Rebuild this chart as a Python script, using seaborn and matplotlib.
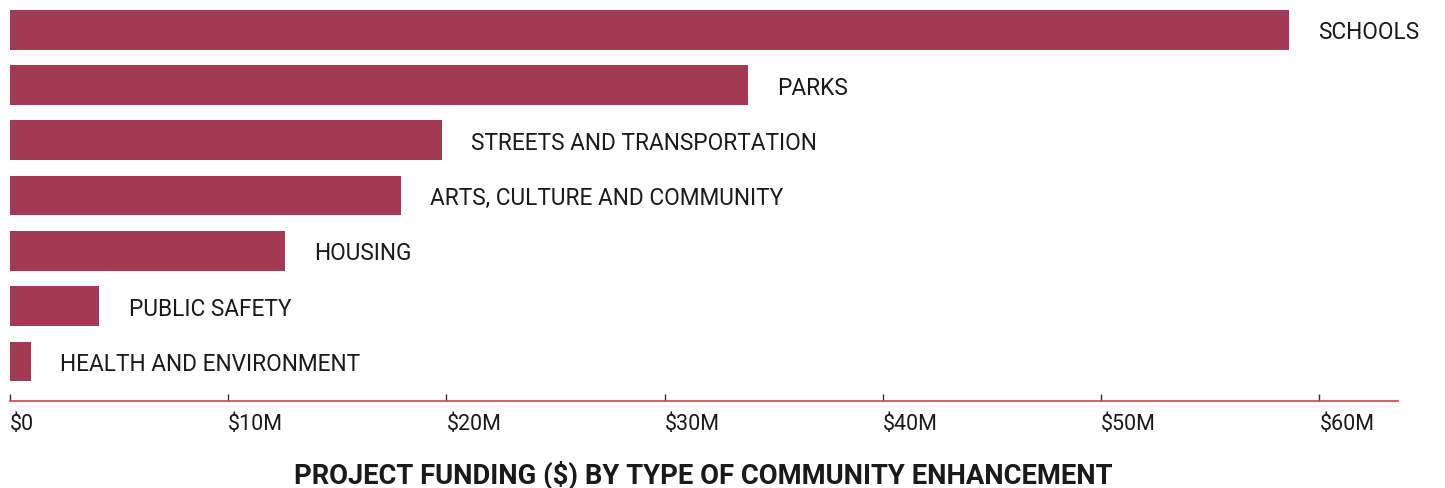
import matplotlib
matplotlib.use("Agg")
import matplotlib.pyplot as plt
import seaborn as sns
import pandas as pd

# данные (в миллионах долларов)
categories = [
    "SCHOOLS",
    "PARKS",
    "STREETS AND TRANSPORTATION",
    "ARTS, CULTURE AND COMMUNITY",
    "HOUSING",
    "PUBLIC SAFETY",
    "HEALTH AND ENVIRONMENT",
]
funding_m = [58.6, 33.8, 19.8, 17.9, 12.6, 4.1, 0.95]
tick_values = [0, 10, 20, 30, 40, 50, 60]
tick_labels = ["$0", "$10M", "$20M", "$30M", "$40M", "$50M", "$60M"]

df = pd.DataFrame({"category": categories, "funding": funding_m})

sns.set_style("white")
plt.rcParams["font.family"] = ["Roboto", "DejaVu Sans"]

bar_color = "#A13A52"
text_color = "#1a1a1a"
axis_red = "#C9444A"

fig = plt.figure(figsize=(14.45, 4.89), dpi=100)
ax = fig.add_axes([0.0069, 0.178, 0.9606, 0.800])

sns.barplot(data=df, y="category", x="funding", orient="h",
            color=bar_color, width=0.72, saturation=1, linewidth=0, ax=ax)

ax.set_xlim(0, 63.6)
ax.set_ylim(6.714, -0.36)

# подписи справа от столбцов
for i, (name, val) in enumerate(zip(categories, funding_m)):
    ax.annotate(name, xy=(val, i), xytext=(21, -1.5), textcoords="offset points",
                va="center", ha="left", fontsize=16.3, color=text_color)

ax.set_xticks(tick_values)
ax.set_xticklabels(tick_labels, ha="left", fontsize=15.5, color=text_color)
ax.tick_params(axis="x", bottom=True, direction="in", length=5, width=1,
               color="#333333", pad=9)
ax.set_yticks([])
ax.set_xlabel("")
ax.set_ylabel("")

for side in ["top", "right", "left"]:
    ax.spines[side].set_visible(False)
ax.spines["bottom"].set_color(axis_red)
ax.spines["bottom"].set_linewidth(1.2)

fig.text(0.4865, 0.028, "PROJECT FUNDING ($) BY TYPE OF COMMUNITY ENHANCEMENT",
         ha="center", va="center", fontsize=19.7, fontweight="bold", color=text_color)

fig.savefig("out.png", dpi=100, facecolor="white")
